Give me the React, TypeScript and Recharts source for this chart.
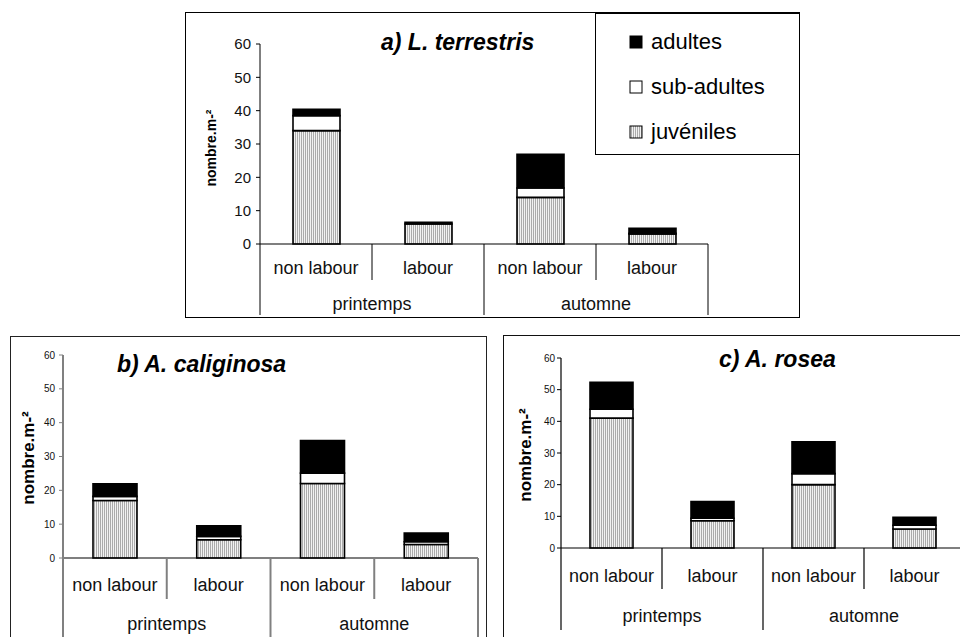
import React from 'react';
import { Bar, BarChart, XAxis, YAxis } from 'recharts';

// tillage x season, same order in all three panels
const categories = ['non labour', 'labour', 'non labour', 'labour'];
const seasons = ['printemps', 'printemps', 'automne', 'automne'];
const yTicks = [0, 10, 20, 30, 40, 50, 60];

// a) L. terrestris
const terrestrisJuv = [34, 6, 14, 3];
const terrestrisSub = [4.5, 0, 2.8, 0.2];
const terrestrisAdu = [1.9, 0.5, 10.1, 1.5];

// b) A. caliginosa
const caliginosaJuv = [17, 5.4, 22, 4];
const caliginosaSub = [1.2, 1, 3.1, 0.8];
const caliginosaAdu = [3.7, 3.1, 9.6, 2.6];

// c) A. rosea
const roseaJuv = [41, 8.6, 20, 6];
const roseaSub = [2.8, 0.8, 3.5, 1.2];
const roseaAdu = [8.5, 5.3, 10, 2.5];

const FONT = '"Liberation Sans", Arial, sans-serif';

const rowsOf = (juv: number[], sub: number[], adu: number[]) =>
  categories.map((cat, i) => ({ cat, season: seasons[i], juv: juv[i], sub: sub[i], adu: adu[i] }));

type PanelCfg = {
  left: number;
  top: number;
  width: number;
  height: number;
  axisX: number;
  plotRight: number;
  yTop: number;
  yZero: number;
  barSize: number;
  tickFont: number;
  tickMargin: number;
  axisColor: string;
  axisWidth: number;
  catFont: number;
  catBase: number;
  seasonBase: number;
  shortLen: number;
  longLen: number;
  labelX: number;
  labelY: number;
  labelFont: number;
  title: string;
  titleX: number;
  titleY: number;
  titleFont: number;
};

function Panel({ cfg, rows }: { cfg: PanelCfg; rows: ReturnType<typeof rowsOf> }) {
  const bw = (cfg.plotRight - cfg.axisX) / categories.length;
  const xAxisH = 20;

  const renderTick = (props: any) => {
    const { x, y, index } = props;
    const leftEdge = x - bw / 2;
    const sep = { stroke: cfg.axisColor, strokeWidth: cfg.axisWidth };
    return (
      <g>
        <line x1={leftEdge} x2={leftEdge} y1={y} y2={y + (index % 2 === 0 ? cfg.longLen : cfg.shortLen)} {...sep} />
        {index === categories.length - 1 && (
          <line x1={x + bw / 2} x2={x + bw / 2} y1={y} y2={y + cfg.longLen} {...sep} />
        )}
        <text x={x} y={y + cfg.catBase} textAnchor="middle" fontSize={cfg.catFont} fontFamily={FONT} fill="#111">
          {categories[index]}
        </text>
        {index % 2 === 0 && (
          <text x={x + bw / 2} y={y + cfg.seasonBase} textAnchor="middle" fontSize={cfg.catFont} fontFamily={FONT} fill="#111">
            {seasons[index]}
          </text>
        )}
      </g>
    );
  };

  return (
    <div style={{ position: 'absolute', left: cfg.left, top: cfg.top }}>
      <BarChart
        width={cfg.width}
        height={cfg.height}
        data={rows}
        barSize={cfg.barSize}
        margin={{ top: cfg.yTop, right: cfg.width - cfg.plotRight, left: 0, bottom: cfg.height - cfg.yZero - xAxisH }}
      >
        <XAxis
          dataKey="cat"
          height={xAxisH}
          tickSize={0}
          tickMargin={0}
          tickLine={false}
          interval={0}
          axisLine={{ stroke: '#000', strokeWidth: 1.2 }}
          tick={renderTick}
        />
        <YAxis
          width={cfg.axisX}
          domain={[0, 60]}
          ticks={yTicks}
          interval={0}
          tickSize={4}
          tickMargin={cfg.tickMargin}
          axisLine={{ stroke: cfg.axisColor, strokeWidth: cfg.axisWidth }}
          tickLine={{ stroke: cfg.axisColor, strokeWidth: 1 }}
          tick={{ fontSize: cfg.tickFont, fontFamily: FONT, fill: '#111' }}
          label={() => (
            <text
              x={cfg.labelX}
              y={cfg.labelY}
              transform={`rotate(-90 ${cfg.labelX} ${cfg.labelY})`}
              textAnchor="middle"
              dominantBaseline="central"
              fontSize={cfg.labelFont}
              fontWeight="bold"
              fontFamily={FONT}
              fill="#000"
            >
              nombre.m-²
            </text>
          )}
        />
        <Bar dataKey="juv" stackId="s" fill="url(#juvStripes)" stroke="#000" strokeWidth={1.6} isAnimationActive={false} />
        <Bar dataKey="sub" stackId="s" fill="#fff" stroke="#000" strokeWidth={1.6} isAnimationActive={false} />
        <Bar dataKey="adu" stackId="s" fill="#000" stroke="#000" strokeWidth={1.6} isAnimationActive={false} />
        <text
          x={cfg.titleX}
          y={cfg.titleY}
          fontSize={cfg.titleFont}
          fontWeight="bold"
          fontStyle="italic"
          fontFamily={FONT}
          fill="#000"
        >
          {cfg.title}
        </text>
      </BarChart>
    </div>
  );
}

const panelA: PanelCfg = {
  left: 185, top: 12, width: 615, height: 306,
  axisX: 75, plotRight: 523, yTop: 32, yZero: 232, barSize: 47,
  tickFont: 15, tickMargin: 5, axisColor: '#000', axisWidth: 1,
  catFont: 18, catBase: 30, seasonBase: 66, shortLen: 36, longLen: 71,
  labelX: 26, labelY: 136, labelFont: 14,
  title: 'a) L. terrestris', titleX: 196, titleY: 38, titleFont: 23
};

const panelB: PanelCfg = {
  left: 10, top: 336, width: 476, height: 301,
  axisX: 53, plotRight: 468, yTop: 19, yZero: 222, barSize: 44,
  tickFont: 10, tickMargin: 4, axisColor: '#808080', axisWidth: 2,
  catFont: 18, catBase: 33, seasonBase: 72, shortLen: 41, longLen: 80,
  labelX: 18, labelY: 122, labelFont: 17,
  title: 'b) A. caliginosa', titleX: 107, titleY: 36, titleFont: 23
};

const panelC: PanelCfg = {
  left: 503, top: 335, width: 470, height: 302,
  axisX: 58, plotRight: 462, yTop: 23, yZero: 213, barSize: 43,
  tickFont: 10, tickMargin: 2, axisColor: '#000', axisWidth: 1.2,
  catFont: 18, catBase: 34, seasonBase: 74, shortLen: 41, longLen: 82,
  labelX: 22, labelY: 120, labelFont: 17,
  title: 'c) A. rosea', titleX: 216, titleY: 32, titleFont: 23
};

const legendItems = [
  { label: 'adultes', fill: '#000' },
  { label: 'sub-adultes', fill: '#fff' },
  { label: 'juvéniles', fill: 'url(#juvStripes)' }
];

export default function App() {
  return (
    <div style={{ position: 'absolute', left: 0, top: 0, width: 960, height: 637, overflow: 'hidden', background: '#fff', fontFamily: FONT }}>
      <svg width={0} height={0} style={{ position: 'absolute' }}>
        <defs>
          <pattern id="juvStripes" width={2} height={4} patternUnits="userSpaceOnUse">
            <rect width={2} height={4} fill="#f2f2f2" />
            <rect width={1} height={4} fill="#ababab" />
          </pattern>
        </defs>
      </svg>

      {/* panel frames */}
      <div style={{ position: 'absolute', left: 185, top: 12, width: 615, height: 306, border: '1px solid #000', boxSizing: 'border-box' }} />
      <div style={{ position: 'absolute', left: 10, top: 336, width: 477, height: 330, border: '1.5px solid #222', boxSizing: 'border-box' }} />
      <div style={{ position: 'absolute', left: 503, top: 335, width: 480, height: 330, border: '1.5px solid #111', boxSizing: 'border-box' }} />

      <Panel cfg={panelA} rows={rowsOf(terrestrisJuv, terrestrisSub, terrestrisAdu)} />
      <Panel cfg={panelB} rows={rowsOf(caliginosaJuv, caliginosaSub, caliginosaAdu)} />
      <Panel cfg={panelC} rows={rowsOf(roseaJuv, roseaSub, roseaAdu)} />

      {/* legend of panel a */}
      <div
        style={{
          position: 'absolute', left: 595, top: 13, width: 205, height: 142,
          border: '1px solid #000', boxSizing: 'border-box', background: '#fff'
        }}
      >
        {legendItems.map((it, i) => (
          <div key={it.label} style={{ position: 'absolute', left: 33, top: 15 + i * 45, height: 26, display: 'flex', alignItems: 'center' }}>
            <svg width={14} height={14} style={{ marginRight: 8 }}>
              <rect x={1} y={1} width={12} height={12} fill={it.fill} stroke="#000" strokeWidth={1} />
            </svg>
            <span style={{ fontSize: 22, color: '#000', lineHeight: '26px' }}>{it.label}</span>
          </div>
        ))}
      </div>
    </div>
  );
}
